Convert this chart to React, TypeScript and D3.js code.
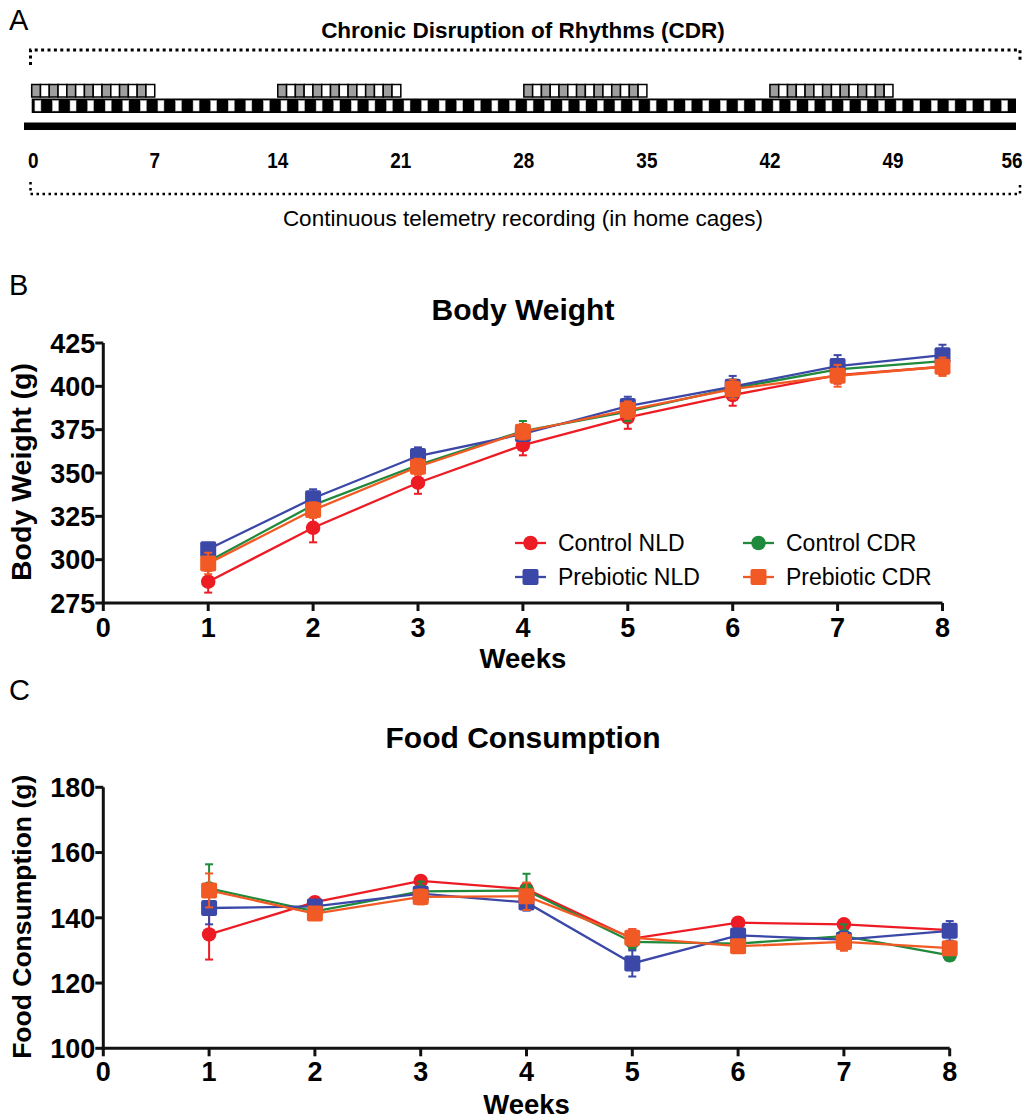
import React from "react";
import * as d3 from "d3";

// ---------- Panel A data ----------
const dayTicks = [0, 7, 14, 21, 28, 35, 42, 49, 56];
const cdrStartDays = [0, 14, 28, 42];
const cdrLengthDays = 7;
const totalDays = 56;
const panelATitle = "Chronic Disruption of Rhythms (CDR)";
const panelACaption = "Continuous telemetry recording (in home cages)";

// ---------- Panel B / C data ----------
const weeks = [1, 2, 3, 4, 5, 6, 7, 8];
const xTicks = [0, 1, 2, 3, 4, 5, 6, 7, 8];
const seriesNames = ["Control NLD", "Control CDR", "Prebiotic NLD", "Prebiotic CDR"];
const seriesColors = ["#ED1C24", "#1F8A3B", "#3B48A8", "#F15A24"];
const seriesShapes = ["circle", "circle", "square", "square"];

const bwControlNLD = [287.3, 318.4, 344.4, 366.1, 382.1, 395.0, 406.5, 411.3];
const bwControlNLDsem = [6.3, 8.4, 6.4, 5.9, 6.6, 6.2, 5.0, 4.5];
const bwControlCDR = [299.0, 331.5, 354.6, 374.2, 385.4, 398.9, 409.8, 414.6];
const bwControlCDRsem = [5.0, 5.0, 5.0, 5.8, 5.5, 5.0, 5.0, 4.5];
const bwPrebioticNLD = [306.0, 335.4, 359.8, 372.5, 388.6, 399.8, 411.7, 418.0];
const bwPrebioticNLDsem = [3.5, 5.2, 5.0, 4.0, 5.4, 6.2, 6.3, 6.0];
const bwPrebioticCDR = [297.8, 328.6, 353.6, 373.8, 386.3, 398.4, 406.1, 411.3];
const bwPrebioticCDRsem = [6.2, 4.5, 4.6, 4.5, 5.0, 5.5, 6.3, 5.3];
const bwYTicks = [275, 300, 325, 350, 375, 400, 425];

const fcControlNLD = [134.9, 144.8, 151.3, 148.8, 133.6, 138.5, 138.0, 136.2];
const fcControlNLDsem = [7.7, 1.5, 1.5, 1.8, 2.9, 1.2, 1.3, 1.5];
const fcControlCDR = [149.0, 142.0, 148.1, 148.4, 132.6, 132.1, 134.4, 128.5];
const fcControlCDRsem = [7.4, 1.5, 3.0, 5.1, 2.2, 1.5, 3.6, 1.5];
const fcPrebioticNLD = [143.0, 143.5, 147.4, 144.7, 126.0, 134.6, 133.3, 136.0];
const fcPrebioticNLDsem = [5.0, 1.5, 2.0, 2.5, 4.0, 2.0, 2.5, 3.0];
const fcPrebioticCDR = [148.4, 141.3, 146.4, 146.6, 133.9, 131.3, 132.6, 130.7];
const fcPrebioticCDRsem = [5.2, 1.5, 2.3, 4.2, 2.5, 1.5, 2.7, 1.5];
const fcYTicks = [100, 120, 140, 160, 180];

const FONT = "'Liberation Sans', Arial, Helvetica, sans-serif";

type Series = { name: string; color: string; shape: string; values: number[]; sem: number[] };

const bwSeries: Series[] = [
  { values: bwControlNLD, sem: bwControlNLDsem },
  { values: bwControlCDR, sem: bwControlCDRsem },
  { values: bwPrebioticNLD, sem: bwPrebioticNLDsem },
  { values: bwPrebioticCDR, sem: bwPrebioticCDRsem },
].map((s, i) => ({ ...s, name: seriesNames[i], color: seriesColors[i], shape: seriesShapes[i] }));

const fcSeries: Series[] = [
  { values: fcControlNLD, sem: fcControlNLDsem },
  { values: fcControlCDR, sem: fcControlCDRsem },
  { values: fcPrebioticNLD, sem: fcPrebioticNLDsem },
  { values: fcPrebioticCDR, sem: fcPrebioticCDRsem },
].map((s, i) => ({ ...s, name: seriesNames[i], color: seriesColors[i], shape: seriesShapes[i] }));

// drawing order: red, green, blue, orange
const drawOrder = [0, 1, 2, 3];

function Marker({ shape, color, x, y, size }: { shape: string; color: string; x: number; y: number; size: number }) {
  if (shape === "circle") return <circle cx={x} cy={y} r={size / 2} fill={color} />;
  return <rect x={x - size / 2} y={y - size / 2} width={size} height={size} rx={2} fill={color} />;
}

function LinePanel({
  series, x, y, yTicks, title, titleY, yLabel, yLabelSize, tickLabelY, weeksY, legend,
}: {
  series: Series[]; x: d3.ScaleLinear<number, number>; y: d3.ScaleLinear<number, number>;
  yTicks: number[]; title: string; titleY: number; yLabel: string; yLabelSize: number; tickLabelY: number; weeksY: number; legend?: boolean;
}) {
  const [x0, x1] = x.range();
  const [yb, yt] = y.range();
  const line = d3.line<number>().x((_, i) => x(weeks[i])).y((v) => y(v));
  const cx = (x0 + x1) / 2;
  return (
    <g>
      <text x={523} y={titleY} textAnchor="middle" fontFamily={FONT} fontWeight="bold" fontSize={30}>{title}</text>
      {/* axes */}
      <line x1={x0} x2={x0} y1={yt} y2={yb + 1.5} stroke="#111" strokeWidth={3} />
      <line x1={x0 - 1.5} x2={x1} y1={yb} y2={yb} stroke="#111" strokeWidth={3} />
      {yTicks.map((t) => (
        <g key={t}>
          <line x1={x0 - 8} x2={x0} y1={y(t)} y2={y(t)} stroke="#111" strokeWidth={3} />
          <text x={x0 - 8} y={y(t)} dy="0.36em" textAnchor="end" fontFamily={FONT} fontWeight="bold" fontSize={27}>{t}</text>
        </g>
      ))}
      {xTicks.map((t) => (
        <g key={t}>
          <line x1={x(t)} x2={x(t)} y1={yb} y2={yb + 8} stroke="#111" strokeWidth={3} />
          <text x={x(t)} y={tickLabelY} textAnchor="middle" fontFamily={FONT} fontWeight="bold" fontSize={27}>{t}</text>
        </g>
      ))}
      <text x={cx} y={weeksY} textAnchor="middle" fontFamily={FONT} fontWeight="bold" fontSize={27.5}>Weeks</text>
      <text transform={`translate(31,${(yt + yb) / 2 - 1}) rotate(-90)`} textAnchor="middle" fontFamily={FONT} fontWeight="bold" fontSize={yLabelSize}>{yLabel}</text>
      {/* series */}
      {drawOrder.map((k) => {
        const s = series[k];
        return (
          <g key={s.name}>
            <path d={line(s.values) || ""} fill="none" stroke={s.color} strokeWidth={2.3} />
            {s.values.map((v, i) => (
              <g key={i} stroke={s.color} strokeWidth={2}>
                <line x1={x(weeks[i])} x2={x(weeks[i])} y1={y(v - s.sem[i])} y2={y(v + s.sem[i])} />
                <line x1={x(weeks[i]) - 4} x2={x(weeks[i]) + 4} y1={y(v - s.sem[i])} y2={y(v - s.sem[i])} />
                <line x1={x(weeks[i]) - 4} x2={x(weeks[i]) + 4} y1={y(v + s.sem[i])} y2={y(v + s.sem[i])} />
              </g>
            ))}
            {s.values.map((v, i) => (
              <Marker key={i} shape={s.shape} color={s.color} x={x(weeks[i])} y={y(v)} size={s.shape === "circle" ? 14.5 : 16} />
            ))}
          </g>
        );
      })}
      {legend && (
        <g>
          {series.map((s, i) => {
            const col = i === 0 || i === 2 ? 0 : 1;
            const row = i < 2 ? 0 : 1;
            const lx = col === 0 ? 515 : 743;
            const ly = row === 0 ? 543 : 577;
            return (
              <g key={s.name}>
                <line x1={lx} x2={lx + 31} y1={ly} y2={ly} stroke={s.color} strokeWidth={2.3} />
                <Marker shape={s.shape} color={s.color} x={lx + 15.5} y={ly} size={s.shape === "circle" ? 14.5 : 16} />
                <text x={lx + 43} y={ly} dy="0.36em" fontFamily={FONT} fontSize={23}>{s.name}</text>
              </g>
            );
          })}
        </g>
      )}
    </g>
  );
}

export default function App() {
  const xA = d3.scaleLinear().domain([0, totalDays]).range([31.7, 1016]);
  const halfDay = xA(0.5) - xA(0);
  const days = d3.range(totalDays);

  const xB = d3.scaleLinear().domain([0, 8]).range([103.3, 942.5]);
  const yB = d3.scaleLinear().domain([275, 425]).range([603, 343]);
  const xC = d3.scaleLinear().domain([0, 8]).range([103.3, 949.7]);
  const yC = d3.scaleLinear().domain([100, 180]).range([1048.3, 787.3]);

  return (
    <svg width={1029} height={1120} style={{ display: "block", position: "absolute", left: 0, top: 0, background: "#fff" }}>
      <rect width={1029} height={1120} fill="#fff" />
      {/* Panel labels */}
      <text x={9} y={30} fontFamily={FONT} fontSize={29}>A</text>
      <text x={9} y={295} fontFamily={FONT} fontSize={29}>B</text>
      <text x={9} y={700} fontFamily={FONT} fontSize={29}>C</text>

      {/* Panel A */}
      <text x={523} y={38} textAnchor="middle" fontFamily={FONT} fontWeight="bold" fontSize={22.5}>{panelATitle}</text>
      <path d={`M30.5,65 V50 H1020 V63`} fill="none" stroke="#000" strokeWidth={3} strokeDasharray="3,3.4" />
      {/* bottom row light/dark */}
      <rect x={xA(0)} y={98.5} width={xA(totalDays) - xA(0)} height={14.5} fill="#000" />
      {days.map((d) => (
        <rect key={d} x={xA(d) + 3.2} y={100.5} width={6} height={10.5} fill="#fff" stroke="#bbb" strokeWidth={0.5} />
      ))}
      {/* CDR rows */}
      {cdrStartDays.map((s) =>
        d3.range(cdrLengthDays * 2).map((i) => (
          <rect
            key={`${s}-${i}`}
            x={xA(s + i * 0.5)}
            y={84.5}
            width={halfDay}
            height={12.5}
            fill={i % 2 === 0 ? "#9E9E9E" : "#fff"}
            stroke="#000"
            strokeWidth={1.5}
          />
        ))
      )}
      <rect x={24} y={122.5} width={xA(totalDays) - 24} height={7.5} fill="#000" />
      {dayTicks.map((d) => (
        <text key={d} transform={`translate(${xA(d) + (d === 0 ? 1.5 : d === 56 ? -4 : 0)},168) scale(0.86,1)`} textAnchor="middle" fontFamily={FONT} fontWeight="bold" fontSize={22}>{d}</text>
      ))}
      <path d={`M30.5,182 V194 H1020 V182`} fill="none" stroke="#000" strokeWidth={2.5} strokeDasharray="2.5,3.5" />
      <text x={523} y={226} textAnchor="middle" fontFamily={FONT} fontSize={22.5}>{panelACaption}</text>

      {/* Panel B */}
      <LinePanel series={bwSeries} x={xB} y={yB} yTicks={bwYTicks} title="Body Weight" titleY={320}
        yLabel="Body Weight (g)" yLabelSize={28.5} tickLabelY={637} weeksY={668} legend />

      {/* Panel C */}
      <LinePanel series={fcSeries} x={xC} y={yC} yTicks={fcYTicks} title="Food Consumption" titleY={748}
        yLabel="Food Consumption (g)" yLabelSize={26.5} tickLabelY={1081} weeksY={1114} />
    </svg>
  );
}
